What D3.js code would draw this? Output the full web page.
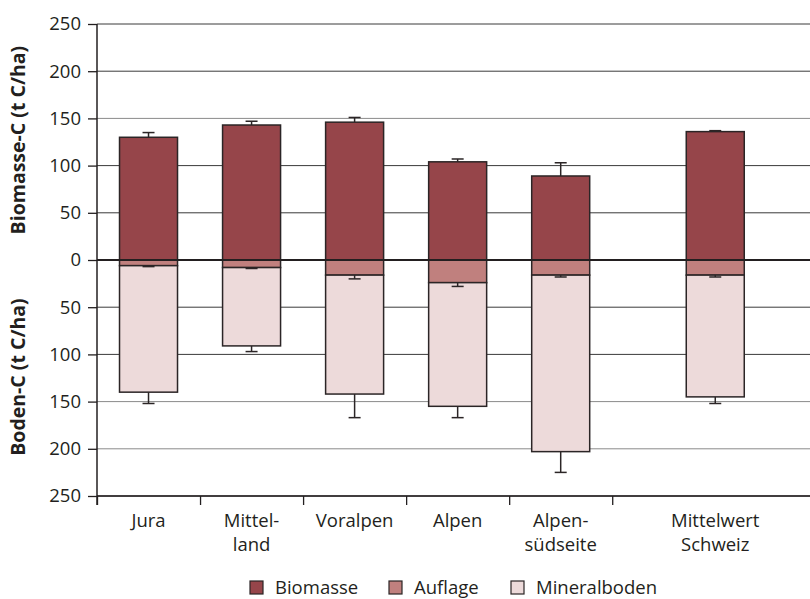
<!DOCTYPE html>
<html>
<head>
<meta charset="utf-8">
<script src="https://cdn.jsdelivr.net/npm/d3@7"></script>
<style>
  body { margin: 0; background: #fff; }
  text { font-family: "Open Sans", "Noto Sans", sans-serif; fill: #231f20; }
</style>
</head>
<body>
<svg id="chart" width="810" height="599"></svg>
<script>
// categories and values (t C/ha)
var categories = ["Jura", "Mittel-|land", "Voralpen", "Alpen", "Alpen-|südseite", "Mittelwert|Schweiz"];
var biomasse    = [130, 143, 146, 104, 89, 136];
var biomasseErr = [5, 4, 5, 3, 14, 1];
var auflage     = [6, 8, 16, 24, 16, 16];
var auflageErr  = [1, 1, 4, 4, 2, 2];
var mineral     = [134, 83, 126, 131, 187, 129];
var mineralErr  = [12, 6, 25, 12, 22, 7];
var yTicks = [250, 200, 150, 100, 50, 0, 50, 100, 150, 200, 250];
var legendNames = ["Biomasse", "Auflage", "Mineralboden"];

var color = d3.scaleOrdinal().domain(legendNames).range(["#96454a", "#c0807e", "#eddada"]);

var svg = d3.select("#chart"),
    plotL = 97, plotR = 810, plotT = 24, plotB = 496;

// y: positive up = biomass, negative = soil
var y = d3.scaleLinear().domain([-250, 250]).range([plotB, plotT]);
// x: slot index, mean value sits after a half-slot gap
var x = d3.scaleLinear().domain([0, 6.9]).range([plotL, 808]);
var slotPos = function (i) { return i < 5 ? i + 0.5 : 6; };
var barW = 58, capW = 12;

// gridlines
var gridVals = d3.range(-250, 251, 50).filter(function (d) { return d != 0; });
svg.append("g").selectAll("line").data(gridVals).enter().append("line")
    .attr("x1", plotL).attr("x2", plotR)
    .attr("y1", function (d) { return y(d); }).attr("y2", function (d) { return y(d); })
    .attr("stroke", function (d) { return Math.abs(d) == 150 || d == -200 ? "#8a8a8a" : "#3a3a3a"; })
    .attr("stroke-width", 1);

// y axis
var yAxis = d3.axisLeft(y).tickValues(d3.range(-250, 251, 50)).tickSize(9).tickPadding(7)
    .tickFormat(function (d, i) { return yTicks[i]; });
var ga = svg.append("g").attr("transform", "translate(" + plotL + ",0)").call(yAxis);
ga.select(".domain").remove();
ga.selectAll(".tick line").attr("stroke", "#231f20").attr("stroke-width", 1.3);
ga.selectAll(".tick text").style("font-size", "18.5px").attr("fill", "#231f20");
svg.append("line").attr("x1", plotL).attr("x2", plotL).attr("y1", plotT).attr("y2", plotB + 9)
    .attr("stroke", "#231f20").attr("stroke-width", 1.5);

// bottom axis
svg.append("line").attr("x1", plotL).attr("x2", plotR).attr("y1", plotB).attr("y2", plotB)
    .attr("stroke", "#231f20").attr("stroke-width", 1.5);
var xb = d3.axisBottom(x).tickValues(d3.range(0, 6)).tickSize(9).tickFormat("");
var gx = svg.append("g").attr("transform", "translate(0," + plotB + ")").call(xb);
gx.select(".domain").remove();
gx.selectAll(".tick line").attr("stroke", "#231f20").attr("stroke-width", 1.3);

// category labels
categories.forEach(function (c, i) {
    var lines = c.split("|");
    var t = svg.append("text").attr("x", x(slotPos(i))).attr("y", 527)
        .attr("text-anchor", "middle").style("font-size", "18.5px");
    lines.forEach(function (l, k) {
        t.append("tspan").attr("x", x(slotPos(i))).attr("dy", k == 0 ? 0 : 24).text(l);
    });
});

var stroke = "#2b2526";
var g = svg.append("g");

// error bar helper
var errBar = function (cx, v0, v1) {
    g.append("line").attr("x1", cx).attr("x2", cx).attr("y1", y(v0)).attr("y2", y(v1))
        .attr("stroke", stroke).attr("stroke-width", 1.5);
    g.append("line").attr("x1", cx - capW / 2).attr("x2", cx + capW / 2).attr("y1", y(v1)).attr("y2", y(v1))
        .attr("stroke", stroke).attr("stroke-width", 1.5);
};

categories.forEach(function (c, i) {
    var cx = x(slotPos(i));
    var b = biomasse[i], a = auflage[i], m = mineral[i];
    errBar(cx, b, b + biomasseErr[i]);
    errBar(cx, -(a + m), -(a + m + mineralErr[i]));
    g.append("rect").attr("x", cx - barW / 2).attr("width", barW)
        .attr("y", y(b)).attr("height", y(0) - y(b))
        .attr("fill", color("Biomasse")).attr("stroke", stroke).attr("stroke-width", 1.5);
    g.append("rect").attr("x", cx - barW / 2).attr("width", barW)
        .attr("y", y(0)).attr("height", y(-a) - y(0))
        .attr("fill", color("Auflage")).attr("stroke", stroke).attr("stroke-width", 1.5);
    g.append("rect").attr("x", cx - barW / 2).attr("width", barW)
        .attr("y", y(-a)).attr("height", y(-(a + m)) - y(-a))
        .attr("fill", color("Mineralboden")).attr("stroke", stroke).attr("stroke-width", 1.5);
    errBar(cx, -a, -(a + auflageErr[i]));
});

// zero line
svg.append("line").attr("x1", plotL).attr("x2", plotR).attr("y1", y(0)).attr("y2", y(0))
    .attr("stroke", "#231f20").attr("stroke-width", 2.2);

// axis titles
svg.append("text").attr("transform", "translate(25," + y(127) + ") rotate(-90)")
    .attr("text-anchor", "middle").style("font-size", "19.5px").style("font-weight", "bold")
    .text("Biomasse-C (t C/ha)");
svg.append("text").attr("transform", "translate(25," + y(-124) + ") rotate(-90)")
    .attr("text-anchor", "middle").style("font-size", "19.5px").style("font-weight", "bold")
    .text("Boden-C (t C/ha)");

// legend
var legX = [250, 389, 511];
legendNames.forEach(function (n, i) {
    svg.append("rect").attr("x", legX[i]).attr("y", 581).attr("width", 13).attr("height", 13)
        .attr("fill", color(n)).attr("stroke", stroke).attr("stroke-width", 1.2);
    svg.append("text").attr("x", legX[i] + 25).attr("y", 594).style("font-size", "18.5px").text(n);
});
</script>
</body>
</html>
